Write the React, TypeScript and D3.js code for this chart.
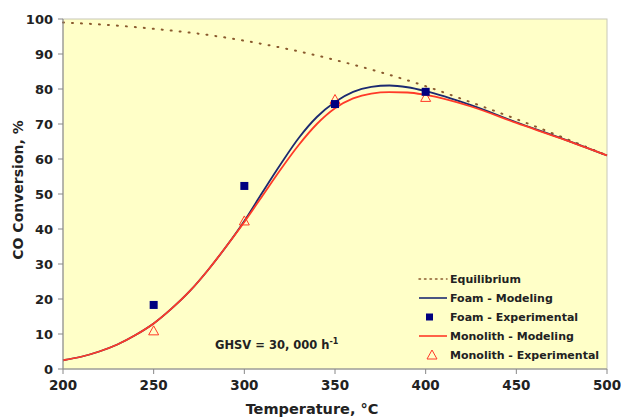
import React from 'react';
import * as d3 from 'd3';

// temperatures (°C) for the model curves
const modelTemps = [200, 210, 220, 230, 240, 250, 260, 270, 280, 290, 300, 310, 320, 330, 340, 350, 360, 370, 380, 390, 400, 425, 450, 475, 500];
const foamModel = [2.5, 3.5, 5, 7, 9.7, 13, 17.3, 22.3, 28.3, 35, 42.3, 50.5, 58.5, 66, 72, 76.3, 79.2, 80.6, 81, 80.5, 79.4, 75.4, 70.5, 65.9, 61];
const monolithModel = [2.5, 3.5, 5, 7, 9.7, 13, 17.3, 22.3, 28.3, 35, 42, 49.5, 57, 64, 70, 74.5, 77.3, 78.7, 79.1, 79, 78.3, 75, 70.3, 65.8, 61];

const eqTemps = [200, 225, 250, 275, 300, 325, 350, 375, 400, 425, 450, 475, 500];
const equilibrium = [99.0, 98.3, 97.2, 95.8, 93.8, 91.3, 88.3, 84.8, 80.8, 76.2, 71.4, 66.3, 61.0];

const expTemps = [250, 300, 350, 400];
const foamExp = [18.3, 52.3, 75.7, 79.2];
const monolithExp = [10.9, 42.3, 77, 77.6];

const xTicks = [200, 250, 300, 350, 400, 450, 500];
const yTicks = [0, 10, 20, 30, 40, 50, 60, 70, 80, 90, 100];

const legendItems = ['Equilibrium', 'Foam - Modeling', 'Foam - Experimental', 'Monolith - Modeling', 'Monolith - Experimental'];

const width = 621;
const height = 419;
const plot = { left: 63, top: 19, right: 607, bottom: 369 };

const font = '"DejaVu Sans", Verdana, sans-serif';
const textColor = '#222';
const navy = '#1c2a70';
const red = '#ff3a28';
const brown = '#8a5a2e';

export default function App() {
  const x = d3.scaleLinear().domain([200, 500]).range([plot.left, plot.right]);
  const y = d3.scaleLinear().domain([0, 100]).range([plot.bottom, plot.top]);

  const line = d3.line<[number, number]>()
    .x(d => x(d[0]))
    .y(d => y(d[1]))
    .curve(d3.curveMonotoneX);

  const zip = (xs: number[], ys: number[]) => xs.map((v, i) => [v, ys[i]] as [number, number]);

  const legendY = [279, 298, 317, 336, 355];

  return (
    <svg width={width} height={height} style={{ position: 'absolute', left: 0, top: 0 }}>
      <rect x={0} y={0} width={width} height={height} fill="#fff" />
      <rect x={plot.left} y={plot.top} width={plot.right - plot.left} height={plot.bottom - plot.top}
        fill="#ffffc8" stroke="#c8c8b8" strokeWidth={1} />

      <path d={line(zip(eqTemps, equilibrium)) || ''} fill="none" stroke={brown} strokeWidth={2}
        strokeDasharray="1 8" strokeLinecap="round" />
      <path d={line(zip(modelTemps, foamModel)) || ''} fill="none" stroke={navy} strokeWidth={1.8} />
      <path d={line(zip(modelTemps, monolithModel)) || ''} fill="none" stroke={red} strokeWidth={1.8} />

      {expTemps.map((t, i) => (
        <path key={'m' + t} transform={`translate(${x(t)},${y(monolithExp[i])})`}
          d="M0,-5L5,4L-5,4Z" fill="none" stroke={red} strokeWidth={1} />
      ))}
      {expTemps.map((t, i) => (
        <rect key={'f' + t} x={x(t) - 4} y={y(foamExp[i]) - 4} width={8} height={8} fill="#000080" />
      ))}

      {/* axes */}
      <line x1={plot.left} x2={plot.left} y1={plot.top} y2={plot.bottom} stroke="#888" strokeWidth={1} />
      <line x1={plot.left} x2={plot.right} y1={plot.bottom} y2={plot.bottom} stroke="#888" strokeWidth={1} />
      {yTicks.map(t => (
        <g key={'y' + t}>
          <line x1={plot.left - 5} x2={plot.left} y1={y(t)} y2={y(t)} stroke="#888" />
          <text x={plot.left - 10} y={y(t)} dy="0.36em" textAnchor="end" fontFamily={font}
            fontWeight="bold" fontSize={13} fill={textColor}>{t}</text>
        </g>
      ))}
      {xTicks.map(t => (
        <g key={'x' + t}>
          <line x1={x(t)} x2={x(t)} y1={plot.bottom} y2={plot.bottom + 5} stroke="#888" />
          <text x={x(t)} y={plot.bottom + 21} textAnchor="middle" fontFamily={font}
            fontWeight="bold" fontSize={13.5} fill={textColor}>{t}</text>
        </g>
      ))}

      <text x={312} y={414} textAnchor="middle" fontFamily={font} fontWeight="bold" fontSize={14.5}
        fill={textColor}>Temperature, °C</text>
      <text transform={`translate(23,190) rotate(-90)`} textAnchor="middle"
        fontFamily={font} fontWeight="bold" fontSize={14} fill={textColor}>CO Conversion, %</text>

      <text x={215} y={349} fontFamily={font} fontWeight="bold" fontSize={11.5} fill={textColor}>
        GHSV = 30, 000 h<tspan dy={-5} fontSize={8}>-1</tspan>
      </text>

      {/* legend */}
      {legendItems.map((label, i) => {
        const ly = legendY[i];
        let sym: React.ReactNode = null;
        if (i === 0) sym = <line x1={419} x2={447} y1={ly} y2={ly} stroke={brown} strokeWidth={1.5} strokeDasharray="1.5 4" strokeLinecap="round" />;
        if (i === 1) sym = <line x1={419} x2={447} y1={ly} y2={ly} stroke={navy} strokeWidth={1.6} />;
        if (i === 2) sym = <rect x={426} y={ly - 3.5} width={7} height={7} fill="#000080" />;
        if (i === 3) sym = <line x1={419} x2={447} y1={ly} y2={ly} stroke={red} strokeWidth={1.6} />;
        if (i === 4) sym = <path transform={`translate(432,${ly})`} d="M0,-5L5,4L-5,4Z" fill="none" stroke={red} strokeWidth={1} />;
        return (
          <g key={label}>
            {sym}
            <text x={450} y={ly} dy="0.36em" fontFamily={font} fontWeight="bold"
              fontSize={11} fill={textColor}>{label}</text>
          </g>
        );
      })}
    </svg>
  );
}
